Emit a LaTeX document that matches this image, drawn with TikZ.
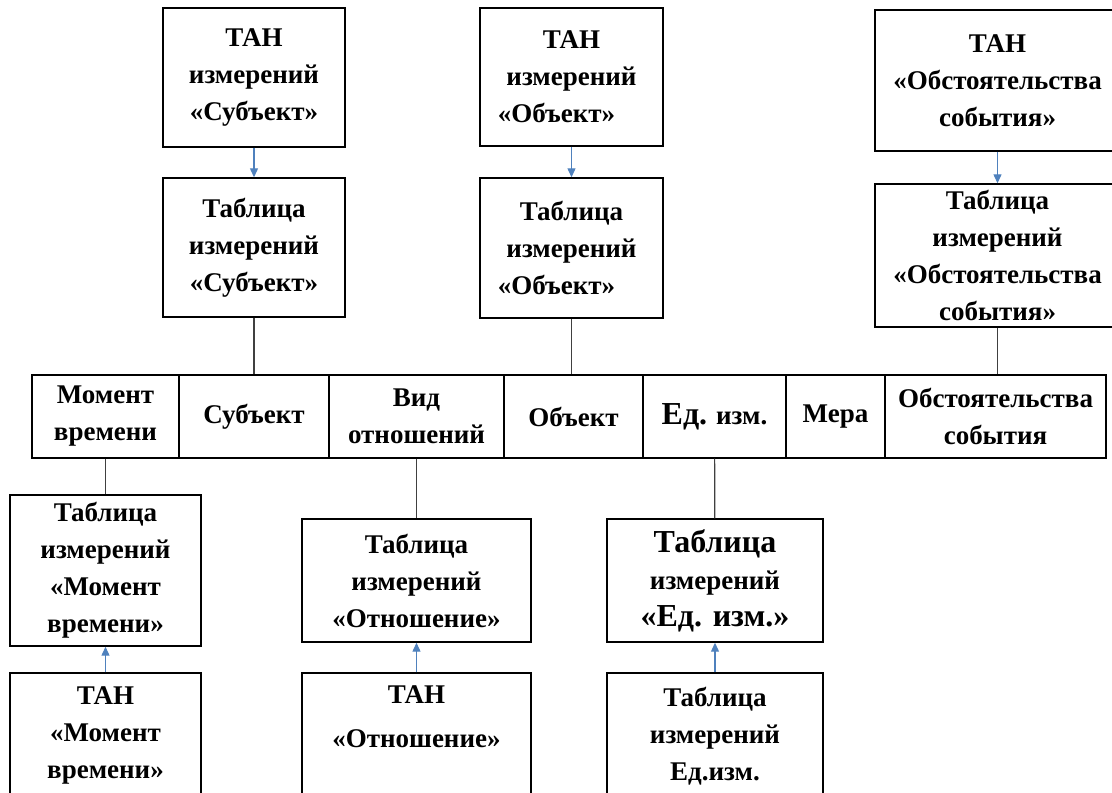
\documentclass[tikz,border=0pt]{standalone}
\usepackage{fontspec}
\setmainfont{Liberation Serif}
\usetikzlibrary{arrows.meta}

\definecolor{arrblue}{HTML}{4F81BD}

\begin{document}
\begin{tikzpicture}[x=1pt, y=-1pt, >=Stealth,
    box/.style={draw, line width=1.4pt, align=center, inner sep=0pt,
        font=\fontsize{27}{37}\selectfont\bfseries},
    cell/.style={box, minimum height=83pt},
    arr/.style={->, arrblue, line width=1.2pt, -{Triangle[width=8pt,length=9pt]}},
    link/.style={line width=1.2pt, black!75}]
        \useasboundingbox (0,0) rectangle (1112,793);
        \clip (0,0) rectangle (1112,793);

        % === ТАН и таблицы сверху ===
        \node[box, minimum width=182pt, minimum height=139pt] (tanSubj) at (254, 77.5)
            {ТАН\\измерений\\«Субъект»};
        \node[box, minimum width=182pt, minimum height=139pt] (tabSubj) at (254, 247.5)
            {Таблица\\измерений\\«Субъект»};
        \node[box, minimum width=183pt, minimum height=138pt] (tanObj) at (571.5, 77)
            {ТАН\\измерений\\«Объект»\hspace*{30pt}};
        \node[box, minimum width=183pt, minimum height=140pt] (tabObj) at (571.5, 248)
            {Таблица\\измерений\\«Объект»\hspace*{30pt}};
        \node[box, minimum width=245pt, minimum height=141pt] (tanCirc) at (997.5, 80.5)
            {ТАН\\«Обстоятельства\\события»};
        \node[box, minimum width=245pt, minimum height=143pt] (tabCirc) at (997.5, 255.5)
            {Таблица\\измерений\\«Обстоятельства\\события»};

        % === строка фактов ===
        \node[cell, minimum width=147pt] (mom) at (105.5, 416.5) {Момент\\времени};
        \node[cell, minimum width=150pt] (subj) at (254, 416.5) {Субъект};
        \node[cell, minimum width=175pt] (vid) at (416.5, 416.5) {Вид\\отношений};
        \node[cell, minimum width=139pt] (obj) at (573.5, 416.5) {Объект};
        \node[cell, minimum width=143pt] (ed) at (714.5, 416.5)
            {{\fontsize{32}{37}\selectfont Ед.} изм.};
        \node[cell, minimum width=99pt] (mera) at (835.5, 416.5) {Мера};
        \node[cell, minimum width=221pt] (circ) at (995.5, 416.5) {Обстоятельства\\события};

        % === таблицы и ТАН снизу ===
        \node[box, minimum width=191pt, minimum height=151pt] (tabMom) at (105.5, 570.5)
            {Таблица\\измерений\\«Момент\\времени»};
        \node[box, minimum width=191pt, minimum height=124pt] (tanMom) at (105.5, 735)
            {ТАН\\«Момент\\времени»};
        \node[box, minimum width=229pt, minimum height=123pt] (tabOtn) at (416.5, 580.5)
            {Таблица\\измерений\\«Отношение»};
        \node[box, minimum width=229pt, minimum height=124pt] (tanOtn) at (416.5, 735)
            {ТАН\\[7pt]«Отношение»\\~};
        \node[box, minimum width=216pt, minimum height=123pt] (tabEd) at (715, 580.5)
            {{\fontsize{32}{37}\selectfont Таблица}\\измерений\\{\fontsize{32}{37}\selectfont «Ед. изм.»}};
        \node[box, minimum width=216pt, minimum height=127pt] (tanEd) at (715, 736.5)
            {Таблица\\измерений\\Ед.изм.};

        % === стрелки ТАН -> таблица ===
        \draw[arr] (tanSubj) -- (tabSubj);
        \draw[arr] (tanObj) -- (tabObj);
        \draw[arr] (tanCirc) -- (tabCirc);
        \draw[arr] (tanMom) -- (tabMom);
        \draw[arr] (tanOtn) -- (tabOtn);
        \draw[arr] (tanEd) -- (tabEd);

        % === связи таблиц со строкой фактов ===
        \draw[link] (tabSubj) -- (subj);
        \draw[link] (tabObj.south) -- (tabObj.south |- obj.north);
        \draw[link] (tabCirc.south) -- (tabCirc.south |- circ.north);
        \draw[link] (mom) -- (tabMom);
        \draw[link] (vid) -- (tabOtn);
        \draw[link] (ed) -- (tabEd);

    \end{tikzpicture}
\end{document}
